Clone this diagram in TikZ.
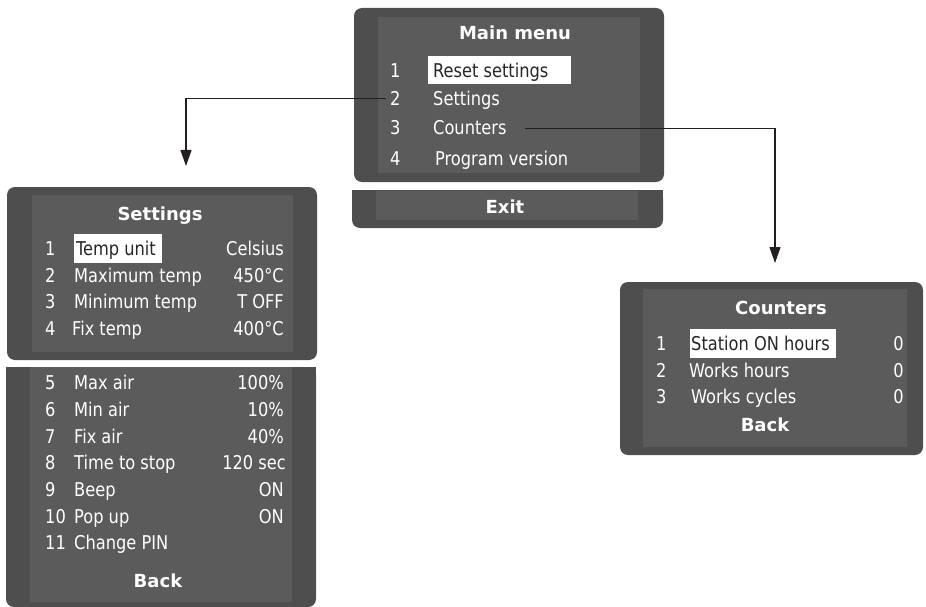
\documentclass[tikz,border=0pt]{standalone}
\usepackage{fontspec}
\setmainfont{DejaVu Sans Condensed}[FakeStretch=0.95]
\newfontfamily\titlefont{DejaVu Sans}
\usetikzlibrary{arrows.meta}
\definecolor{panelout}{HTML}{4E4E4F}
\definecolor{panelin}{HTML}{5B5B5C}
\definecolor{lineclr}{HTML}{231F20}
\begin{document}
\begin{tikzpicture}[x=1pt,y=-1pt,
  outerbox/.style={fill=panelout,rounded corners=8pt},
  innerbox/.style={fill=panelin},
  hlbox/.style={fill=white},
  item/.style={anchor=base west,text=white,inner sep=0pt,font=\fontsize{19}{22}\selectfont},
  hitem/.style={item,text=black!85},
  val/.style={anchor=base east,text=white,inner sep=0pt,font=\fontsize{19}{22}\selectfont},
  ttl/.style={anchor=base,text=white,inner sep=0pt,font=\titlefont\bfseries\fontsize{18}{22}\selectfont},
  conn/.style={draw=lineclr,line width=1.1pt,-{Triangle[width=11pt,length=16pt]}}]
\useasboundingbox (0,0) rectangle (926,607);

% ---------- Main menu ----------
\fill[outerbox] (354,8) rectangle (664,182);
\fill[innerbox] (378,17) rectangle (640,173);
\node[ttl] (mmt) at (515,40) {Main menu};
\fill[hlbox] (428,56) rectangle (571,84);
\node[item] (m1n) at (390,78) {1};
\node[hitem] (m1) at (433,78) {Reset settings};
\node[item] (m2n) at (390,106) {2};
\node[item] (m2) at (433,106) {Settings};
\node[item] (m3n) at (390,135) {3};
\node[item] (m3) at (433,135) {Counters};
\node[item] (m4n) at (390,165) {4};
\node[item] (m4) at (435,165) {Program version};
% Exit bar
\fill[outerbox] (352,190) rectangle (663,228);
\fill[panelout] (352,190) rectangle (663,200);
\fill[innerbox] (376,191) rectangle (638,220);
\node[ttl] (exit) at (505,213) {Exit};

% ---------- Settings (upper) ----------
\fill[outerbox] (7,187) rectangle (317,360);
\fill[innerbox] (32,195) rectangle (293,352);
\node[ttl] (st) at (160,220) {Settings};
\fill[hlbox] (74,234) rectangle (162,263);
\node[item] (s1n) at (45,255) {1};
\node[hitem] (s1) at (76,255) {Temp unit};
\node[val] (s1v) at (284,255) {Celsius};
\node[item] (s2n) at (45,282) {2};
\node[item] (s2) at (74,282) {Maximum temp};
\node[val] (s2v) at (284,282) {450°C};
\node[item] (s3n) at (45,308) {3};
\node[item] (s3) at (74,308) {Minimum temp};
\node[val] (s3v) at (284,308) {T OFF};
\node[item] (s4n) at (45,335) {4};
\node[item] (s4) at (72,335) {Fix temp};
\node[val] (s4v) at (284,335) {400°C};

% ---------- Settings (lower) ----------
\fill[outerbox] (6,367) rectangle (316,607);
\fill[panelout] (6,367) rectangle (316,380);
\fill[innerbox] (30,367) rectangle (292,602);
\node[item] (s5n) at (45,389) {5};
\node[item] (s5) at (74,389) {Max air};
\node[val] (s5v) at (284,389) {100\%};
\node[item] (s6n) at (45,416) {6};
\node[item] (s6) at (74,416) {Min air};
\node[val] (s6v) at (284,416) {10\%};
\node[item] (s7n) at (45,443) {7};
\node[item] (s7) at (74,443) {Fix air};
\node[val] (s7v) at (284,443) {40\%};
\node[item] (s8n) at (45,469) {8};
\node[item] (s8) at (74,469) {Time to stop};
\node[val] (s8v) at (286,469) {120 sec};
\node[item] (s9n) at (45,496) {9};
\node[item] (s9) at (74,496) {Beep};
\node[val] (s9v) at (284,496) {ON};
\node[item] (s10n) at (45,523) {10};
\node[item] (s10) at (74,523) {Pop up};
\node[val] (s10v) at (284,523) {ON};
\node[item] (s11n) at (45,549) {11};
\node[item] (s11) at (74,549) {Change PIN};
\node[ttl] (sback) at (158,587) {Back};

% ---------- Counters ----------
\fill[outerbox] (620,282) rectangle (923,455);
\fill[innerbox] (643,289) rectangle (907,447);
\node[ttl] (ct) at (781,314) {Counters};
\fill[hlbox] (690,329) rectangle (836,358);
\node[item] (c1n) at (656,350) {1};
\node[hitem] (c1) at (691,350) {Station ON hours};
\node[val] (c1v) at (904,350) {0};
\node[item] (c2n) at (656,377) {2};
\node[item] (c2) at (689,377) {Works hours};
\node[val] (c2v) at (904,377) {0};
\node[item] (c3n) at (656,403) {3};
\node[item] (c3) at (691,403) {Works cycles};
\node[val] (c3v) at (904,403) {0};
\node[ttl] (cback) at (765,431) {Back};

% ---------- Connectors ----------
\coordinate (tipS) at (186,166);
\coordinate (tipC) at (775,263);
\draw[conn] ([xshift=-4pt]m2n.west) -| (tipS);
\draw[conn] ([xshift=18pt]m3.east) -| (tipC);
\end{tikzpicture}
\end{document}
